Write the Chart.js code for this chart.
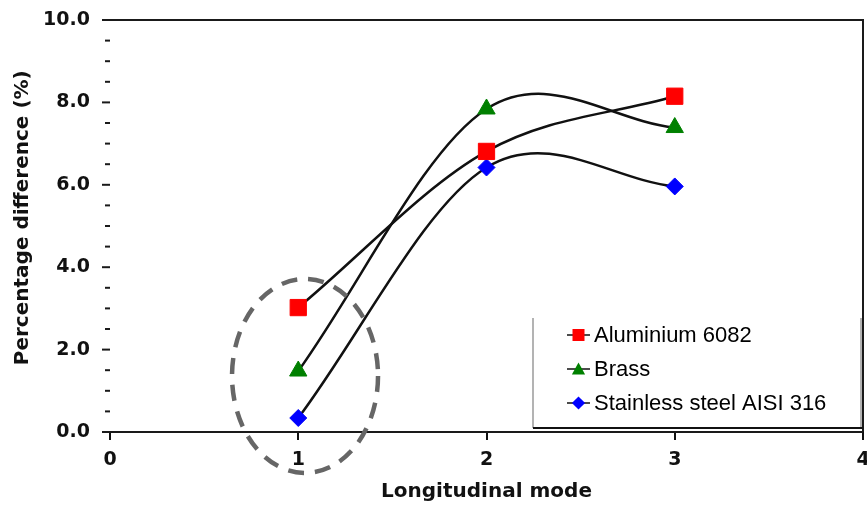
<!DOCTYPE html>
<html>
<head>
<meta charset="utf-8">
<script src="https://cdn.jsdelivr.net/npm/chart.js@4.4.0/dist/chart.umd.min.js"></script>
<style>
  body { margin: 0; background: #fff; }
  #wrap { width: 867px; height: 505px; }
</style>
</head>
<body>
<div id="wrap"><canvas id="chart" width="867" height="505"></canvas></div>
<script>
const modes = [1, 2, 3];
const aluminium = [3.02, 6.81, 8.15];
const brass = [1.48, 7.84, 7.39];
const stainless = [0.34, 6.42, 5.96];
const seriesNames = ["Aluminium 6082", "Brass", "Stainless steel AISI 316"];
const seriesColors = ["#ff0000", "#008000", "#0000ff"];
const seriesMarkers = ["rect", "triangle", "rectRot"];
const yMajorTicks = [0, 2, 4, 6, 8, 10];
const yTitle = "Percentage difference (%)";
const xTitle = "Longitudinal mode";

const tickFont = { family: "DejaVu Sans", weight: "bold", size: 19 };
const titleFont = { family: "DejaVu Sans", weight: "bold", size: 20 };

function toPoints(values) {
  return modes.map((m, i) => ({ x: m, y: values[i] }));
}

// small marker painter for the legend
function drawMarker(ctx, style, x, y, s) {
  ctx.beginPath();
  if (style === "rect") {
    ctx.rect(x - s, y - s, 2 * s, 2 * s);
  } else if (style === "triangle") {
    ctx.moveTo(x, y - s * 1.1);
    ctx.lineTo(x + s * 1.1, y + s * 0.9);
    ctx.lineTo(x - s * 1.1, y + s * 0.9);
    ctx.closePath();
  } else {
    ctx.moveTo(x - s * 1.1, y);
    ctx.lineTo(x, y - s * 1.1);
    ctx.lineTo(x + s * 1.1, y);
    ctx.lineTo(x, y + s * 1.1);
    ctx.closePath();
  }
  ctx.fill();
}

// Excel-like smoothing: catmull-rom control points (ends reflected)
const smoothPlugin = {
  id: "smooth",
  beforeDatasetsDraw(chart) {
    chart.data.datasets.forEach((ds, i) => {
      const meta = chart.getDatasetMeta(i);
      const pts = meta.data;
      const n = pts.length;
      if (n < 2) return;
      const at = (k) => {
        if (k < 0) return { x: 2 * pts[0].x - pts[1].x, y: 2 * pts[0].y - pts[1].y };
        if (k >= n) return { x: 2 * pts[n - 1].x - pts[n - 2].x, y: 2 * pts[n - 1].y - pts[n - 2].y };
        return pts[k];
      };
      pts.forEach((p, k) => {
        const a = at(k - 1);
        const b = at(k + 1);
        const dx = (b.x - a.x) / 6;
        const dy = (b.y - a.y) / 6;
        p.cp1x = p.x - dx;
        p.cp1y = p.y - dy;
        p.cp2x = p.x + dx;
        p.cp2y = p.y + dy;
      });
      meta.dataset._pointsUpdated = true;
    });
  },
};

// frame lines, y tick marks, y title, dashed ellipse and boxed legend
const framePlugin = {
  id: "frame",
  afterDraw(chart) {
    const ctx = chart.ctx;
    const { left, right, top, bottom } = chart.chartArea;
    const xs = chart.scales.x;
    const ys = chart.scales.y;
    ctx.save();

    ctx.strokeStyle = "#1a1a1a";
    ctx.lineWidth = 2;
    ctx.beginPath();
    ctx.moveTo(left - 8, top);
    ctx.lineTo(right, top);
    ctx.lineTo(right, bottom);
    ctx.moveTo(left - 8, bottom);
    ctx.lineTo(right, bottom);
    ctx.stroke();

    ys.ticks.forEach((t) => {
      const y = ys.getPixelForValue(t.value);
      const len = yMajorTicks.includes(t.value) ? 8 : 5;
      ctx.beginPath();
      ctx.moveTo(left - len, y);
      ctx.lineTo(left, y);
      ctx.stroke();
    });

    // y title
    ctx.save();
    ctx.translate(23, ys.getPixelForValue(5.2));
    ctx.rotate(-Math.PI / 2);
    ctx.font = "bold 20px 'DejaVu Sans'";
    ctx.fillStyle = "#111";
    ctx.textAlign = "center";
    ctx.textBaseline = "middle";
    ctx.fillText(yTitle, 0, 0);
    ctx.restore();

    // dashed ellipse round mode 1
    ctx.strokeStyle = "#666666";
    ctx.lineWidth = 4.5;
    ctx.setLineDash([16, 11]);
    ctx.beginPath();
    ctx.ellipse(xs.getPixelForValue(1.036), ys.getPixelForValue(1.36), 73, 97, 0, 0, Math.PI * 2);
    ctx.stroke();
    ctx.setLineDash([]);

    // legend box
    const bx = { left: 533, right: 861, top: 318, bottom: 428 };
    ctx.fillStyle = "#fff";
    ctx.fillRect(bx.left, bx.top, bx.right - bx.left, bx.bottom - bx.top);
    ctx.lineWidth = 1.5;
    ctx.strokeStyle = "#9a9a9a";
    ctx.beginPath();
    ctx.moveTo(bx.left, bx.top);
    ctx.lineTo(bx.left, bx.bottom);
    ctx.moveTo(bx.right, bx.top);
    ctx.lineTo(bx.right, bx.bottom);
    ctx.stroke();
    ctx.strokeStyle = "#111";
    ctx.lineWidth = 2;
    ctx.beginPath();
    ctx.moveTo(bx.left, bx.bottom);
    ctx.lineTo(right, bx.bottom);
    ctx.stroke();

    ctx.font = "22px 'Liberation Sans', Arial, sans-serif";
    ctx.textBaseline = "middle";
    ctx.textAlign = "left";
    seriesNames.forEach((name, i) => {
      const y = bx.top + 17 + i * 34;
      ctx.strokeStyle = "#111";
      ctx.lineWidth = 1.5;
      ctx.beginPath();
      ctx.moveTo(567, y);
      ctx.lineTo(590, y);
      ctx.stroke();
      ctx.fillStyle = seriesColors[i];
      drawMarker(ctx, seriesMarkers[i], 578.5, y, 6);
      ctx.fillStyle = "#000";
      ctx.fillText(name, 594, y + 1);
    });
    ctx.restore();
  },
};

const series = [aluminium, brass, stainless];
const radii = [11.5, 10, 8.5];

const ctx = document.getElementById("chart").getContext("2d");
new Chart(ctx, {
  type: "line",
  data: {
    datasets: series.map((vals, i) => ({
      label: seriesNames[i],
      data: toPoints(vals),
      borderColor: "#111",
      borderWidth: 2.5,
      tension: 0.4,
      pointStyle: seriesMarkers[i],
      pointRadius: radii[i],
      pointBackgroundColor: seriesColors[i],
      pointBorderColor: seriesColors[i],
      pointBorderWidth: 1,
    })),
  },
  options: {
    responsive: false,
    animation: false,
    devicePixelRatio: 1,
    layout: { autoPadding: false, padding: { top: 20, right: 4, left: 0, bottom: 0 } },
    plugins: { legend: { display: false }, tooltip: { enabled: false } },
    scales: {
      x: {
        type: "linear",
        min: 0,
        max: 4,
        ticks: { stepSize: 1, font: tickFont, color: "#111", padding: 9, maxRotation: 0 },
        grid: { drawOnChartArea: false, tickLength: 8, color: "#111", lineWidth: 2 },
        border: { display: false },
        title: { display: true, text: xTitle, font: titleFont, color: "#111", padding: { top: 0, bottom: 1 } },
        afterFit(scale) {
          scale.height = 73;
          scale.paddingLeft = 0;
          scale.paddingRight = 0;
        },
      },
      y: {
        min: 0,
        max: 10,
        ticks: {
          stepSize: 0.5,
          autoSkip: false,
          font: tickFont,
          color: "#111",
          padding: 20,
          callback: (v) => (yMajorTicks.includes(v) ? v.toFixed(1) : ""),
        },
        grid: { display: false, drawTicks: false },
        border: { display: false },
        afterFit(scale) {
          scale.width = 110;
          scale.paddingTop = 0;
          scale.paddingBottom = 0;
        },
      },
    },
  },
  plugins: [smoothPlugin, framePlugin],
});
</script>
</body>
</html>
